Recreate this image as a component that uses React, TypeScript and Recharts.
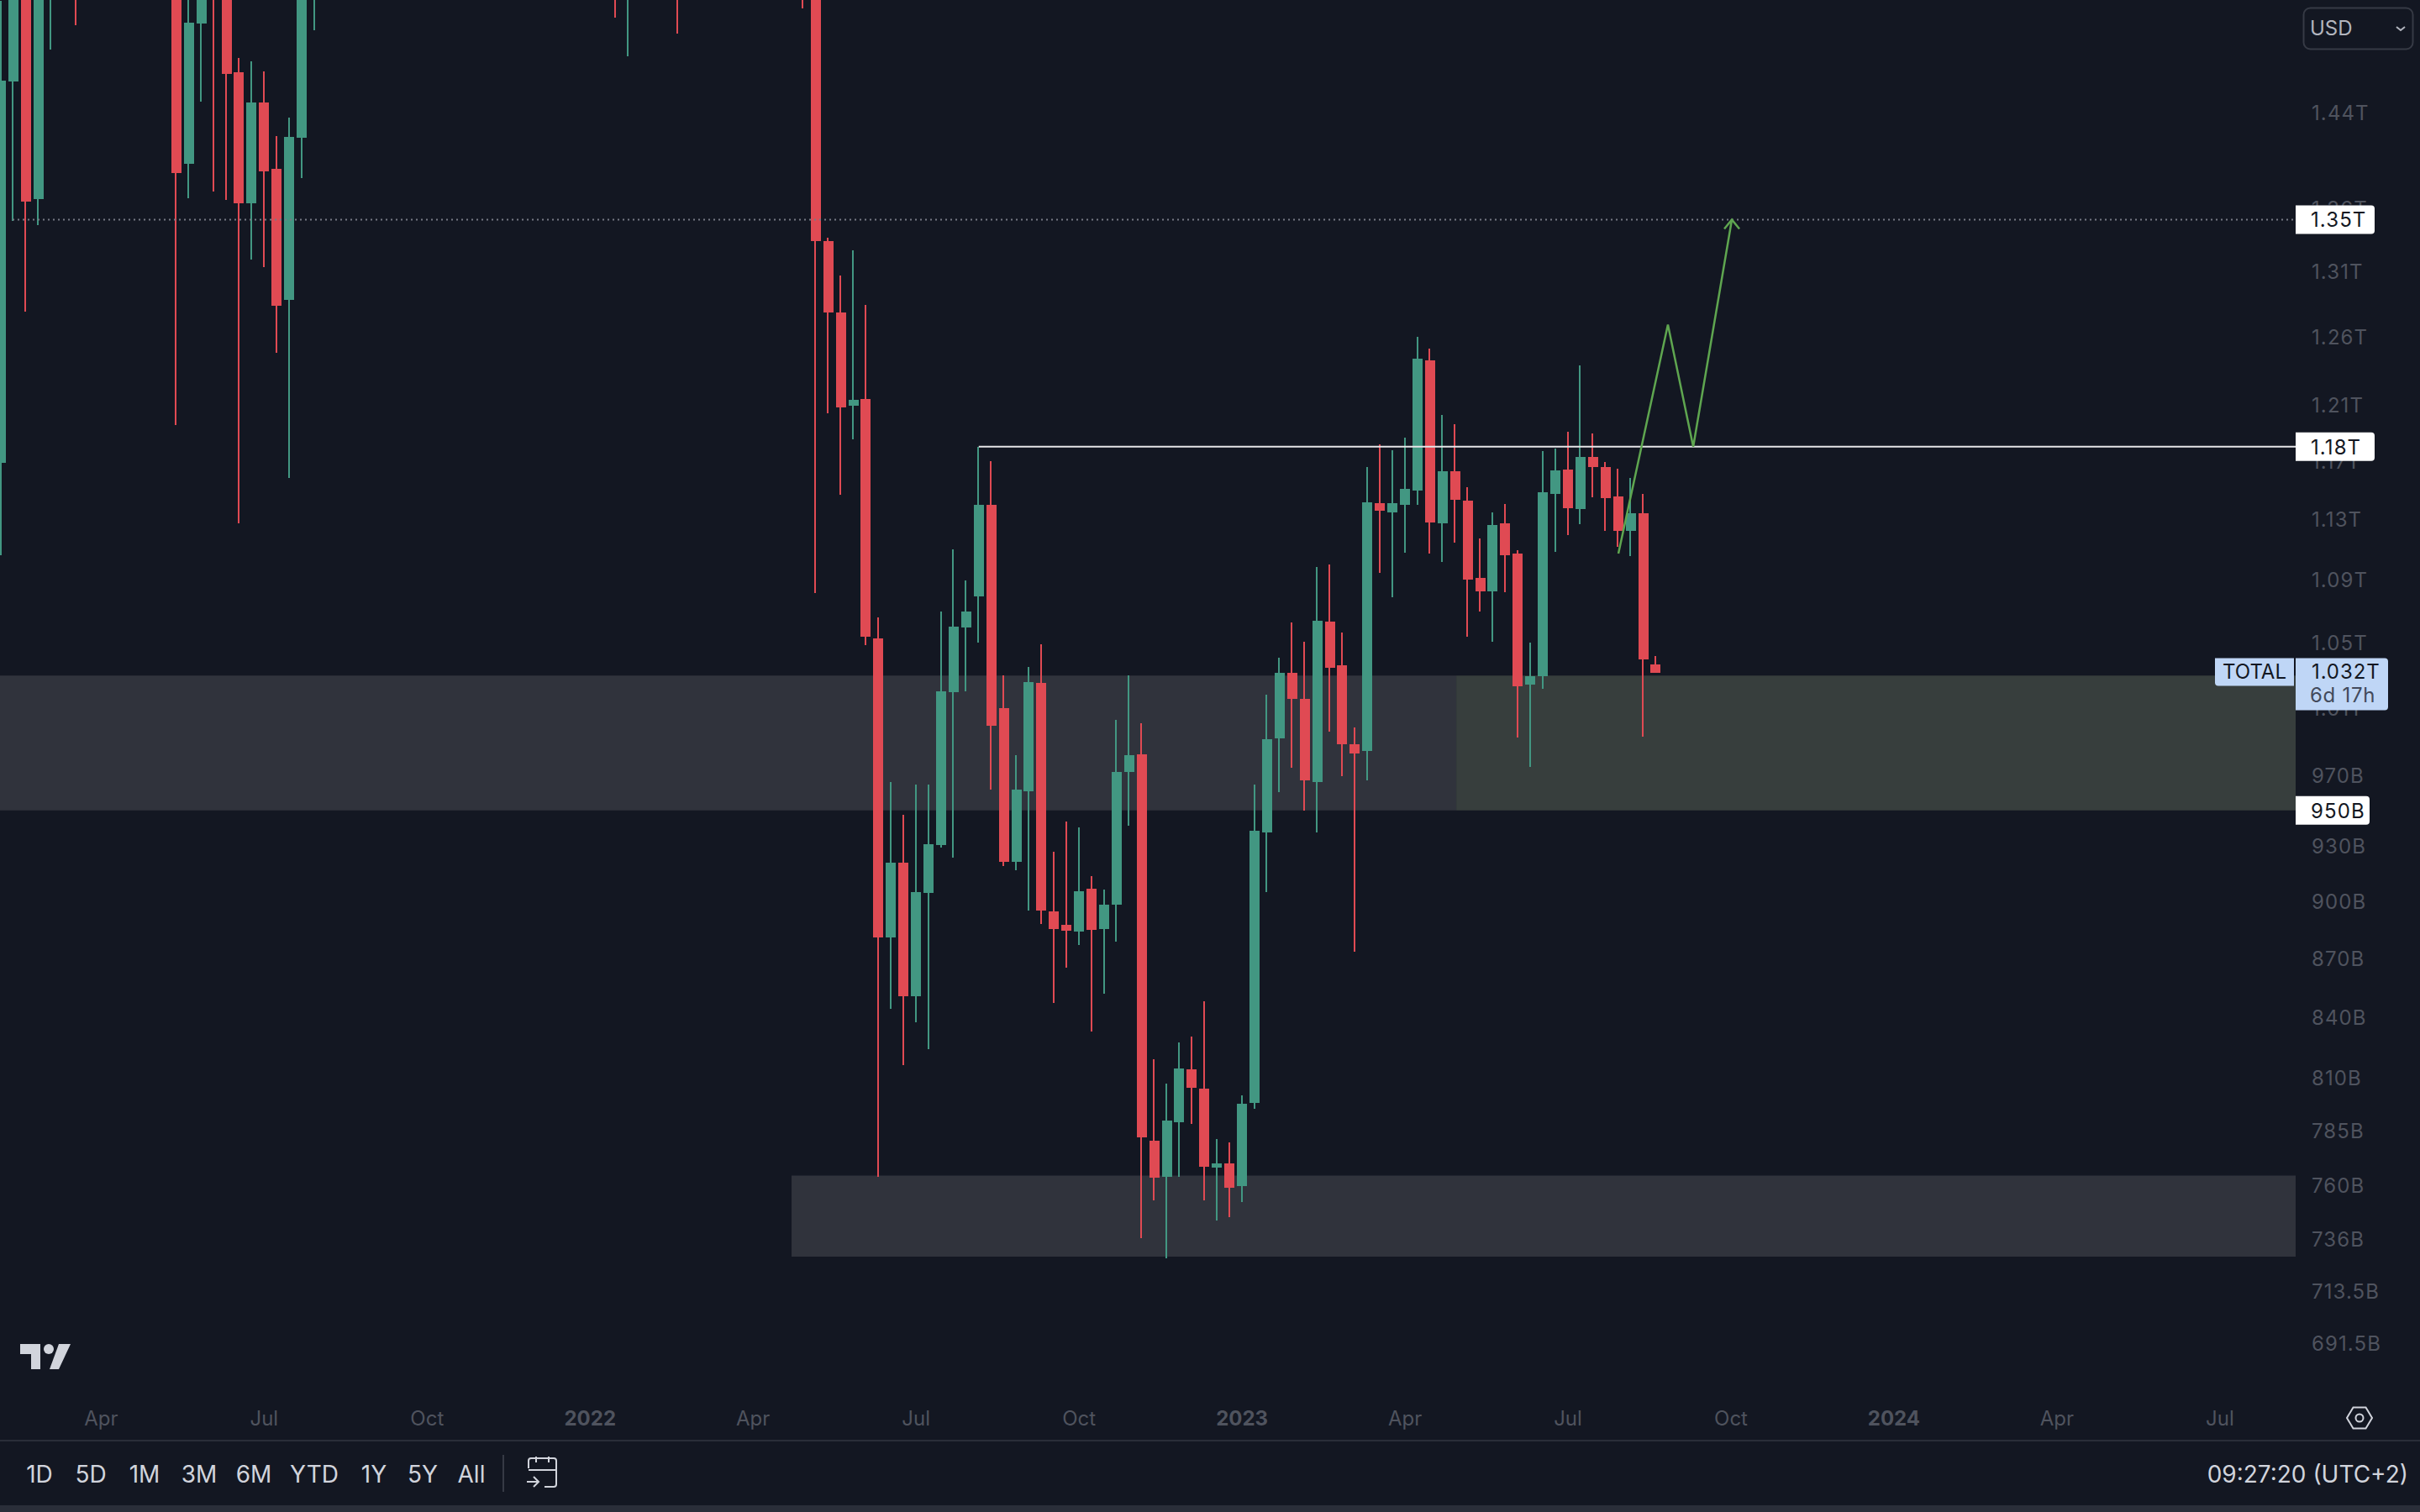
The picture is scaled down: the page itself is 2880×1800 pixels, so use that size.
import React from 'react';
import { ComposedChart, Bar, Line, XAxis, YAxis, ReferenceArea, ReferenceLine } from 'recharts';

// Weekly TOTAL market cap, values in billions USD. Candles that sit fully above the
// visible range are left out, parts above the top edge are estimates and get clipped.
const weeks = [
  0, 1, 2, 3, 4, 6, 14, 15, 16, 17, 18, 19, 20, 21, 22, 23, 24, 25, 49, 50, 54, 64,
  65, 66, 67, 68, 69, 70, 71, 72, 73, 74, 75, 76, 77, 78, 79, 80, 81, 82, 83, 84, 85, 86, 87, 88, 89,
  90, 91, 92, 93, 94, 95, 96, 97, 98, 99, 100, 101, 102, 103, 104, 105, 106, 107, 108, 109,
  110, 111, 112, 113, 114, 115, 116, 117, 118, 119, 120, 121, 122, 123, 124, 125, 126, 127, 128, 129, 130, 131, 132,
];
const opens = [
  1168.7, 1467, 1620, 1367.7, 1560, 1620, 1600, 1396.7, 1518.6, 1640, 1590, 1475, 1364.3, 1448.8, 1392.5, 1288, 1418.6, 1570, 1640, 1570, 1640, 1640,
  1600, 1333.9, 1278.4, 1209.3, 1214.2, 1052.7, 880.9, 921, 850.5, 904.6, 930.7, 1019.6, 1059.5, 1079.3, 1139.8, 1009.9, 921.5, 961, 1025.2, 894.6, 887.5, 884, 906.8, 885.3, 898.2,
  972.2, 982.4, 780.2, 763.6, 789, 814.3, 804.9, 767.9, 769.8, 759.5, 798.1, 937.7, 991.8, 1031.3, 1015.5, 966.3, 1063.3, 1036, 988.3, 984.4,
  1141, 1134.8, 1139.8, 1149.6, 1242.3, 1127.4, 1163, 1142.7, 1091.3, 1082.5, 1127.4, 1107.2, 1024.1, 1029.2, 1147.3, 1164.1, 1137, 1172.8, 1165.8, 1145.6, 1122.4, 1134.2, 1036.4,
];
const highs = [
  1539, 1640, 1650, 1660, 1620, 1640, 1640, 1560, 1640, 1660, 1620, 1487.7, 1484.7, 1475.8, 1420, 1435.7, 1600, 1680, 1680, 1640, 1680, 1680,
  1640, 1336.6, 1306.9, 1326.5, 1284.2, 1065.9, 966.3, 947.7, 964.9, 964.9, 1069.7, 1110, 1089.7, 1180, 1169.9, 1029.8, 981.9, 1034.9, 1049, 927, 943.9, 940.6, 913.6, 906.4, 1002.9,
  1029.8, 1000.9, 819.1, 807.2, 827.3, 830.3, 847.9, 781, 779.5, 801.7, 964.9, 1018, 1040.6, 1062.7, 1050.6, 1098.4, 1100.1, 1056.3, 998.3, 1165.8,
  1181.8, 1177.5, 1186.5, 1259.9, 1251.3, 1202.6, 1196, 1152, 1117.3, 1134.8, 1140.4, 1109.5, 1050.1, 1176.9, 1178.6, 1190.7, 1238.5, 1189.5, 1169.3, 1164.7, 1158.3, 1147.3, 1041.6,
];
const lows = [
  1106.1, 1350.1, 1279.1, 1346.7, 1495.1, 1517, 1195.4, 1368.4, 1449.5, 1373.9, 1367.1, 1127.4, 1319.3, 1313.4, 1248.1, 1158.3, 1385, 1512.5, 1523.9, 1489.2, 1509.4, 1532.3,
  1081.5, 1203.9, 1146.8, 1185.3, 1048.5, 763.6, 844.1, 816.3, 837.4, 824, 929.3, 923.8, 1020.1, 1050.1, 962, 919.2, 916.9, 895.1, 887.9, 847.1, 865, 876.9, 832.7, 851.8, 878.7,
  941.5, 736.3, 753.1, 727.4, 763.6, 788.2, 753.1, 744.1, 745.6, 752.3, 795.3, 905, 960.5, 974.6, 950, 937.7, 995.8, 969.7, 873.4, 967.3,
  1094.6, 1078.8, 1107.8, 1139.8, 1107.2, 1101.8, 1114.4, 1053.7, 1069.7, 1050.6, 1082, 992.4, 975.1, 1021.6, 1108.3, 1119.4, 1127, 1145, 1122.4, 1111.7, 1105.6, 992.9, 1031.3,
];
const closes = [
  1467.6, 1600, 1365.7, 1620, 1600, 1570, 1389, 1519.3, 1600, 1590, 1473.6, 1364.3, 1448.8, 1390.4, 1283.5, 1419.3, 1560, 1650, 1570, 1640, 1570, 1600,
  1333.9, 1278.4, 1208.1, 1213.6, 1053.7, 880.9, 921, 850.5, 905, 931.2, 1020.1, 1060, 1069.7, 1139.8, 999.3, 921.5, 962, 1025.7, 895.1, 885.3, 884.4, 905.4, 884.8, 898.2, 972.2,
  981.9, 781.8, 763.2, 789.8, 814.7, 805.3, 768.3, 769.8, 758.7, 797.7, 938.7, 991.3, 1031.3, 1015.5, 967.3, 1063.8, 1034.4, 988.3, 982.9, 1141.5,
  1135.9, 1141, 1150.8, 1243.6, 1128, 1163, 1143.3, 1090.2, 1082.5, 1126.3, 1106.1, 1023.1, 1029.2, 1148.4, 1163.5, 1137.6, 1172.8, 1165.8, 1144.4, 1122.4, 1134.2, 1039.6, 1031.3,
];

const priceTicks = [1440, 1360, 1310, 1260, 1210, 1170, 1130, 1090, 1050, 1010, 970, 930, 900, 870, 840, 810, 785, 760, 736, 713.5, 691.5];
const priceLabels = ['1.44T', '1.36T', '1.31T', '1.26T', '1.21T', '1.17T', '1.13T', '1.09T', '1.05T', '1.01T', '970B', '930B', '900B', '870B', '840B', '810B', '785B', '760B', '736B', '713.5B', '691.5B'];
// tags sit after the plain ticks so they paint over them
const tagPrices = [1351, 1180, 950, 1032];
const tagLabels = ['1.35T', '1.18T', '950B', '1.032T'];
const timeTicks = [8, 21, 34, 47, 60, 73, 86, 99, 112, 125, 138, 151, 164, 177];
const timeLabels = ['Apr', 'Jul', 'Oct', '2022', 'Apr', 'Jul', 'Oct', '2023', 'Apr', 'Jul', 'Oct', '2024', 'Apr', 'Jul'];
const rangeButtons = ['1D', '5D', '1M', '3M', '6M', 'YTD', '1Y', '5Y', 'All'];

// projected path drawn on the chart
const pathWeeks = [129.02, 132.97, 134.99, 138.07];
const pathValues = [1107.2, 1269, 1180, 1351];

const GREEN = '#429782';
const RED = '#e04a53';
const BG = '#131722';
const MUTED = '#4f535e';
const FONT = 'Inter, "Noto Sans", sans-serif';

const X_DOMAIN: [number, number] = [-0.067, 183.04];
const Y_DOMAIN: [number, number] = [670.8, 1539.9];

const candles = weeks.map((week, i) => ({
  week,
  up: closes[i] >= opens[i],
  wick: [lows[i], highs[i]],
  body: [Math.min(opens[i], closes[i]), Math.max(opens[i], closes[i])],
}));

const projection = pathWeeks.map((week, i) => ({ week, path: pathValues[i] }));

// snap to whole pixels so the candles stay crisp
const CandleRect = (props: any) => {
  const { x, y, width, height, payload, drawWidth } = props;
  const left = Math.round(x + width / 2 - drawWidth / 2);
  const top = Math.round(y);
  const bottom = Math.round(y + height);
  return (
    <rect
      x={left}
      y={top}
      width={drawWidth}
      height={Math.max(bottom - top, 1)}
      fill={payload.up ? GREEN : RED}
    />
  );
};

const PriceTag = ({ y, index }: { y: number; index: number }) => {
  const text = tagLabels[index];
  if (text === '1.032T') {
    const x = 2732;
    return (
      <g>
        <path d={`M${x - 96} ${y - 16} H${x - 2} V${y + 17} H${x - 92} a4 4 0 0 1 -4 -4 Z`} fill="#bfd6f6" />
        <text x={x - 49} y={y} dy={9} textAnchor="middle" fontSize={24} fontFamily={FONT} fill="#131722">TOTAL</text>
        <path d={`M${x} ${y - 16} H${x + 106} a4 4 0 0 1 4 4 V${y + 42} a4 4 0 0 1 -4 4 H${x} Z`} fill="#bfd6f6" />
        <text x={x + 19} y={y} dy={9} fontSize={24} letterSpacing={0.9} fontFamily={FONT} fill="#131722">{text}</text>
        <text x={x + 17} y={y + 28} dy={9} fontSize={24} letterSpacing={0.7} fontFamily={FONT} fill="#434a5c">6d 17h</text>
      </g>
    );
  }
  const width = text === '950B' ? 88 : 94;
  return (
    <g>
      <path d={`M2732 ${y - 17} H${2732 + width - 4} a4 4 0 0 1 4 4 V${y + 13} a4 4 0 0 1 -4 4 H2732 Z`} fill="#ffffff" />
      <text x={2750} y={y} dy={9} fontSize={24} letterSpacing={1.1} fontFamily={FONT} fill="#131722">{text}</text>
    </g>
  );
};

const PriceTick = (props: any) => {
  const { y, index } = props;
  if (index >= priceLabels.length) return <PriceTag y={y} index={index - priceLabels.length} />;
  return (
    <text x={2751} y={y} dy={9} fontSize={24} letterSpacing={1.1} fontFamily={FONT} fill={MUTED}>
      {priceLabels[index]}
    </text>
  );
};

const TimeTick = (props: any) => {
  const { x, index } = props;
  const label = timeLabels[index];
  return (
    <text x={x} y={1697} textAnchor="middle" fontSize={24} fontFamily={FONT} fontWeight={label.length === 4 ? 700 : 400} fill={MUTED}>
      {label}
    </text>
  );
};

const ArrowDot = (props: any) => {
  const { cx, cy, index } = props;
  if (index !== pathWeeks.length - 1) return <g key={index} />;
  return (
    <path
      key={index}
      d={`M${cx - 9} ${cy + 11} L${cx} ${cy} L${cx + 9} ${cy + 11}`}
      fill="none"
      stroke="#5fa650"
      strokeWidth={2.5}
    />
  );
};

const Overlay = () => {
  const buttonX = [47, 108, 172, 237, 302, 374, 445, 503, 561];
  return (
    <svg width={2880} height={1800} style={{ position: 'absolute', left: 0, top: 0, pointerEvents: 'none' }}>
      {/* currency box */}
      <rect x={2741.5} y={9.5} width={130} height={49} rx={8} fill="none" stroke="#363a45" strokeWidth={2} />
      <text x={2749} y={42} fontSize={24} fontFamily={FONT} fill="#b2b5be">USD</text>
      <path d="M2852 32 l5 4 l5 -4" fill="none" stroke="#b2b5be" strokeWidth={2} />

      {/* logo */}
      <path d="M24 1600 H48 V1630 H37 V1612 H24 Z" fill="#d1d4dc" />
      <circle cx={58} cy={1606} r={6} fill="#d1d4dc" />
      <path d="M70 1600 H84 L70 1630 H59 Z" fill="#d1d4dc" />

      {/* settings */}
      <path d="M2800.5 1675.5 H2815.5 L2823 1688 L2815.5 1700.5 H2800.5 L2793 1688 Z" fill="none" stroke="#d1d4dc" strokeWidth={2} />
      <circle cx={2808} cy={1688} r={4.5} fill="none" stroke="#d1d4dc" strokeWidth={2} />

      {/* bottom toolbar */}
      <rect x={0} y={1714} width={2880} height={2} fill="#2a2e39" />
      <rect x={0} y={1792} width={2880} height={8} fill="#2a2e39" />
      {rangeButtons.map((label, i) => (
        <text key={label} x={buttonX[i]} y={1765} textAnchor="middle" fontSize={28} fontFamily={FONT} fill="#d1d4dc">{label}</text>
      ))}
      <rect x={598} y={1732} width={2} height={44} fill="#363a45" />
      <path
        d="M629 1748 V1739 a3 3 0 0 1 3 -3 H659 a3 3 0 0 1 3 3 V1767 a3 3 0 0 1 -3 3 H648 M629 1750 H662 M638 1734 V1741 M653 1734 V1741 M627 1764 H641 M635 1758 L641 1764 L635 1770"
        fill="none"
        stroke="#d1d4dc"
        strokeWidth={2}
      />
      <text x={2866} y={1765} textAnchor="end" fontSize={28} fontFamily={FONT} fill="#d1d4dc">09:27:20 (UTC+2)</text>
    </svg>
  );
};

export default function App() {
  return (
    <div style={{ position: 'absolute', left: 0, top: 0, width: 2880, height: 1800, background: BG, overflow: 'hidden' }}>
      <ComposedChart
        width={2880}
        height={1800}
        data={candles}
        margin={{ top: 0, right: 0, bottom: 0, left: 0 }}
      >
        <XAxis
          xAxisId="time"
          dataKey="week"
          type="number"
          domain={X_DOMAIN}
          allowDataOverflow
          ticks={timeTicks}
          interval={0}
          height={140}
          axisLine={false}
          tickLine={false}
          tick={<TimeTick />}
        />
        <XAxis xAxisId="wicks" dataKey="week" type="number" domain={X_DOMAIN} allowDataOverflow hide />
        <YAxis
          orientation="right"
          scale="log"
          domain={Y_DOMAIN}
          allowDataOverflow
          ticks={[...priceTicks, ...tagPrices]}
          interval={0}
          width={148}
          axisLine={false}
          tickLine={false}
          tick={<PriceTick />}
        />

        <ReferenceArea xAxisId="time" x1={X_DOMAIN[0]} x2={116.09} y1={950} y2={1029.5} fill="#30333c" fillOpacity={1} stroke="none" />
        <ReferenceArea xAxisId="time" x1={116.09} x2={X_DOMAIN[1]} y1={950} y2={1029.5} fill="#373e3d" fillOpacity={1} stroke="none" />
        <ReferenceArea xAxisId="time" x1={63.07} x2={X_DOMAIN[1]} y1={728.2} y2={764.2} fill="#30333c" fillOpacity={1} stroke="none" />

        <ReferenceLine
          xAxisId="time"
          segment={[{ x: 0.94, y: 1351 }, { x: X_DOMAIN[1], y: 1351 }]}
          stroke="#787b86"
          strokeWidth={2}
          strokeDasharray="2 4"
        />
        <ReferenceLine
          xAxisId="time"
          segment={[{ x: 78, y: 1180 }, { x: X_DOMAIN[1], y: 1180 }]}
          stroke="#e6e6e8"
          strokeWidth={2}
        />

        <Bar xAxisId="wicks" dataKey="wick" barSize={2} shape={<CandleRect drawWidth={2} />} isAnimationActive={false} />
        <Bar xAxisId="time" dataKey="body" barSize={2} shape={<CandleRect drawWidth={12} />} isAnimationActive={false} />

        <Line
          xAxisId="time"
          data={projection}
          dataKey="path"
          stroke="#5fa650"
          strokeWidth={2.5}
          dot={<ArrowDot />}
          activeDot={false}
          isAnimationActive={false}
        />
      </ComposedChart>
      <Overlay />
    </div>
  );
}
